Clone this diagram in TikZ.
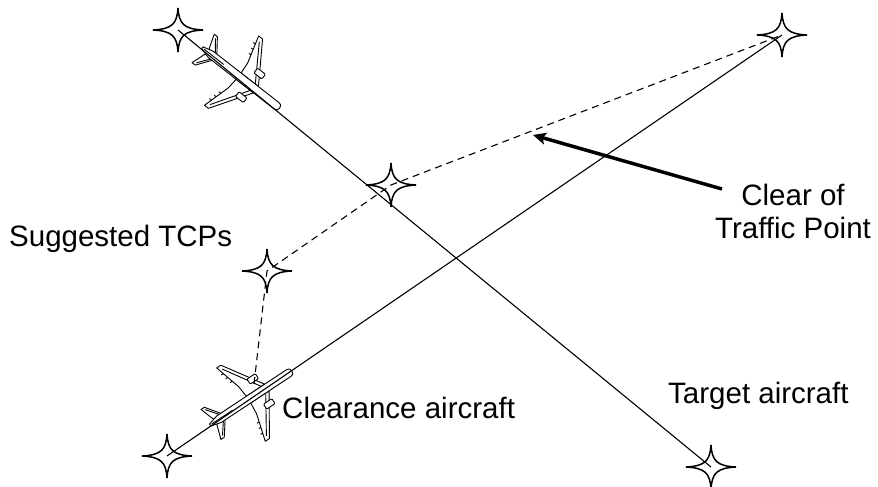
\documentclass[tikz,border=0pt]{standalone}
\usepackage{fontspec}
\setmainfont{Liberation Sans}
\usetikzlibrary{arrows.meta}

\tikzset{
  track/.style={line width=1.1pt},
  tcpline/.style={line width=1.1pt, dash pattern=on 7pt off 5pt},
  lbl/.style={font=\fontsize{29.5}{33}\selectfont, inner sep=0pt},
  % four-pointed waypoint star
  waystar/.pic={
    \filldraw[fill=white, line width=1.5pt]
      (25,0) .. controls (6,1) and (1,6) .. (0,22)
      .. controls (-1,6) and (-6,1) .. (-25,0)
      .. controls (-6,-1) and (-1,-6) .. (0,-22)
      .. controls (1,-6) and (6,-1) .. cycle;
  },
  % airliner seen from above, nose along +x
  jet/.pic={
    \begin{scope}[fill=white, line width=0.9pt, line join=round]
      \foreach \s in {1,-1} {
        % main wing
        \filldraw (19,4*\s) -- (-7,44*\s) -- (-12,44*\s) -- (-4,16*\s) -- (-3,4*\s) -- cycle;
        \draw (15,4*\s) -- (-8,40*\s);
        \foreach \k in {0.3,0.5,0.7}
          \draw (-4+\k*-8,16*\s+\k*28*\s) -- ++(-2.5,0);
        % engine
        \filldraw[rounded corners=1pt] (17,12*\s) rectangle (7,18*\s);
        % tailplane
        \filldraw (-33,3*\s) -- (-44,18*\s) -- (-48,18*\s) -- (-43,3*\s) -- cycle;
        \draw (-35,3*\s) -- (-44.5,15.5*\s);
      }
      % fuselage
      \filldraw (49,0) .. controls (48,4) .. (41,4) -- (-38,4) -- (-49,1.2)
        -- (-49,-1.2) -- (-38,-4) -- (41,-4) .. controls (48,-4) .. cycle;
      \draw (-22,0) -- (-47,0);
    \end{scope}
  }
}

\begin{document}
\begin{tikzpicture}[x=1pt,y=-1pt]
\useasboundingbox (0,0) rectangle (878,487);

% waypoints
\coordinate (tgtStart) at (178,30);
\coordinate (tgtEnd) at (711,467);
\coordinate (clrStart) at (167,456);
\coordinate (clrEnd) at (782,35);
\coordinate (tcpA) at (391,185);
\coordinate (tcpB) at (267,271);
\coordinate (dashStart) at (254,384);
\coordinate (arrTail) at (722,189);
\coordinate (arrHead) at (533,135);

\foreach \p in {tgtStart,tgtEnd,clrStart,clrEnd,tcpA,tcpB}
  \pic at (\p) {waystar};

% aircraft
\pic[rotate=-38] (tgtAc) at (241,78) {jet};
\pic[rotate=33.5] (clrAc) at (251,398) {jet};

% routes
\draw[track] (tgtStart) -- (tgtEnd);
\draw[track] (clrStart) -- (clrEnd);
\draw[tcpline] (dashStart) -- (tcpB) -- (tcpA) -- (clrEnd);
\draw[line width=3.5pt, -{Stealth[length=13pt, width=12pt, inset=3pt]}] (arrTail) -- (arrHead);

% labels
\node[lbl, anchor=base west] (suggLbl) at (9,246) {Suggested TCPs};
\node[lbl, anchor=base west] (clrLbl) at (282,418) {Clearance aircraft};
\node[lbl, anchor=base west] (tgtLbl) at (668,403) {Target aircraft};
\node[lbl, align=center] (cotpLbl) at (793,211) {Clear of\\Traffic Point};
\end{tikzpicture}
\end{document}
